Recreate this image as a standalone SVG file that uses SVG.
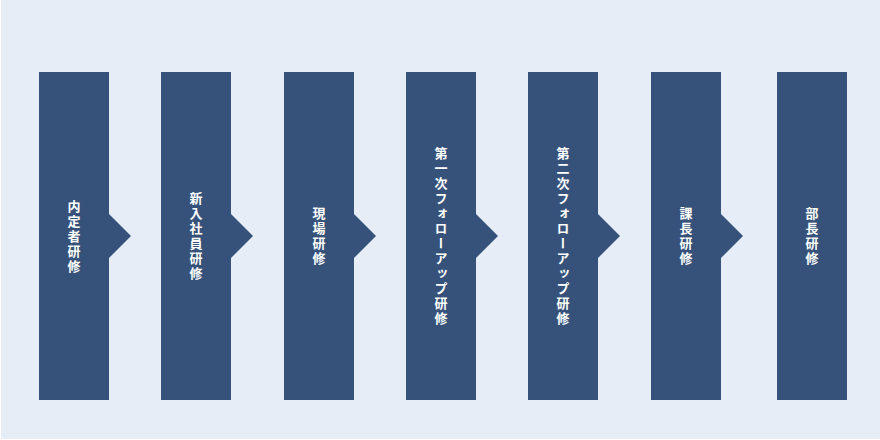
<svg xmlns="http://www.w3.org/2000/svg" width="880" height="440" viewBox="0 0 880 440">
<style>
.bar{fill:#36527A}
.lbl{fill:#FFFFFF;font-family:"Noto Sans CJK JP","Noto Sans CJK SC",sans-serif;font-size:13px;font-weight:bold;writing-mode:vertical-rl;text-anchor:middle;letter-spacing:2px}
</style>
<rect x="0" y="0" width="880" height="440" fill="#FFFFFF"/>
<rect x="1" y="0" width="879" height="439" fill="#E6EDF7"/>
<g id="connectors">
<polygon class="bar" points="109,214 131,236 109,258"/>
<polygon class="bar" points="231,214 253,236 231,258"/>
<polygon class="bar" points="354,214 376,236 354,258"/>
<polygon class="bar" points="476,214 498,236 476,258"/>
<polygon class="bar" points="598,214 620,236 598,258"/>
<polygon class="bar" points="721,214 743,236 721,258"/>
</g>
<g id="n1"><rect class="bar" x="39" y="72" width="70" height="328"/><text class="lbl" x="74" y="237">内定者研修</text></g>
<g id="n2"><rect class="bar" x="161" y="72" width="70" height="328"/><text class="lbl" x="196" y="237">新入社員研修</text></g>
<g id="n3"><rect class="bar" x="284" y="72" width="70" height="328"/><text class="lbl" x="319" y="237">現場研修</text></g>
<g id="n4"><rect class="bar" x="406" y="72" width="70" height="328"/><text class="lbl" x="441" y="237">第一次フォローアップ研修</text></g>
<g id="n5"><rect class="bar" x="528" y="72" width="70" height="328"/><text class="lbl" x="563" y="237">第二次フォローアップ研修</text></g>
<g id="n6"><rect class="bar" x="651" y="72" width="70" height="328"/><text class="lbl" x="686" y="237">課長研修</text></g>
<g id="n7"><rect class="bar" x="777" y="72" width="70" height="328"/><text class="lbl" x="812" y="237">部長研修</text></g>
</svg>
